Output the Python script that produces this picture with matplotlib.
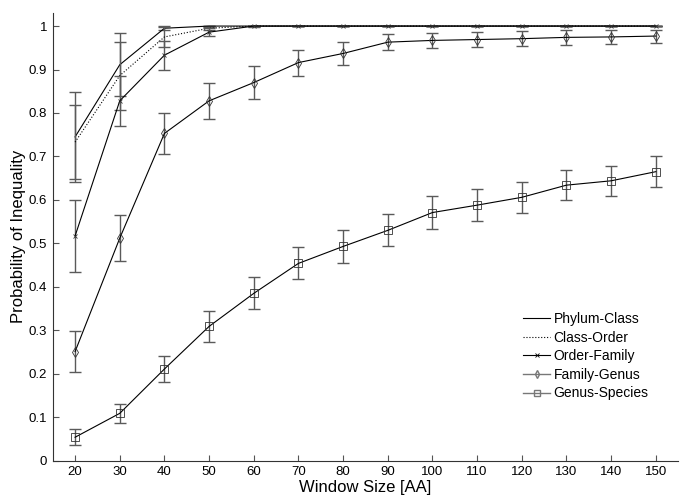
import matplotlib
matplotlib.use("Agg")
import matplotlib.pyplot as plt
from matplotlib.lines import Line2D

plt.rcParams['font.family'] = ['Liberation Sans', 'DejaVu Sans']

window = [20, 30, 40, 50, 60, 70, 80, 90, 100, 110, 120, 130, 140, 150]

phylum_class = [0.745, 0.911, 0.995, 1.0, 1.0, 1.0, 1.0, 1.0, 1.0, 1.0, 1.0, 1.0, 1.0, 1.0]
phylum_class_err = [0.103, 0.072, 0.005, 0, 0, 0, 0, 0, 0, 0, 0, 0, 0, 0]

class_order = [0.733, 0.886, 0.975, 0.995, 1.0, 1.0, 1.0, 1.0, 1.0, 1.0, 1.0, 1.0, 1.0, 1.0]
class_order_err = [0.085, 0.078, 0.024, 0.004, 0, 0, 0, 0, 0, 0, 0, 0, 0, 0]

order_family = [0.517, 0.828, 0.933, 0.986, 1.0, 1.0, 1.0, 1.0, 1.0, 1.0, 1.0, 1.0, 1.0, 1.0]
order_family_err = [0.083, 0.057, 0.033, 0.01, 0.001, 0, 0, 0, 0, 0, 0, 0, 0, 0]

family_genus = [0.251, 0.512, 0.753, 0.828, 0.870, 0.916, 0.937, 0.963, 0.967, 0.969, 0.971, 0.974, 0.975, 0.977]
family_genus_err = [0.048, 0.053, 0.047, 0.042, 0.038, 0.030, 0.026, 0.019, 0.018, 0.018, 0.017, 0.017, 0.016, 0.015]

genus_species = [0.054, 0.109, 0.211, 0.309, 0.385, 0.454, 0.493, 0.530, 0.571, 0.588, 0.606, 0.634, 0.644, 0.665]
genus_species_err = [0.018, 0.022, 0.030, 0.035, 0.037, 0.037, 0.037, 0.037, 0.037, 0.037, 0.036, 0.035, 0.035, 0.035]

labels = ["Phylum-Class", "Class-Order", "Order-Family", "Family-Genus", "Genus-Species"]

fig = plt.figure(figsize=(6.85, 5.01), dpi=100)
ax = fig.add_axes([0.077, 0.0804, 0.913, 0.8936])

err_color = "#5a5a5a"
series = [
    (phylum_class, phylum_class_err, "-", None, 0),
    (class_order, class_order_err, ":", None, 0),
    (order_family, order_family_err, "-", "x", 3.5),
    (family_genus, family_genus_err, "-", "d", 5),
    (genus_species, genus_species_err, "-", "s", 6),
]
for vals, errs, ls, mk, ms in series:
    ax.errorbar(window, vals, yerr=errs, fmt="none", ecolor=err_color,
                elinewidth=1.0, capsize=4.3, capthick=1.0)
    ax.plot(window, vals, linestyle=ls, color="black", linewidth=0.8,
            marker=mk, markersize=ms, markerfacecolor="none",
            markeredgecolor="#333333", markeredgewidth=0.6)

# legend entries (the reference shows the last two in gray)
handles = [
    Line2D([], [], color="black", linestyle="-", linewidth=0.8),
    Line2D([], [], color="black", linestyle=":", linewidth=0.8),
    Line2D([], [], color="black", linestyle="-", linewidth=0.8, marker="x", markersize=3,
           markeredgewidth=0.6),
    Line2D([], [], color="#777777", linestyle="-", linewidth=1.0, marker="d", markersize=4,
           markerfacecolor="none"),
    Line2D([], [], color="#777777", linestyle="-", linewidth=1.0, marker="s", markersize=4.5,
           markerfacecolor="none"),
]
ax.legend(handles, labels, frameon=False, fontsize=10, loc="upper left",
          bbox_to_anchor=(0.7635, 0.377), bbox_transform=fig.transFigure,
          borderaxespad=0, borderpad=0, handlelength=1.95, handletextpad=0.25,
          labelspacing=0.33)

ax.set_xlim(15, 155)
ax.set_ylim(0, 1.03)
ax.set_xticks(window)
ax.set_yticks([0, 0.1, 0.2, 0.3, 0.4, 0.5, 0.6, 0.7, 0.8, 0.9, 1.0])
ax.set_yticklabels(["0", "0.1", "0.2", "0.3", "0.4", "0.5", "0.6", "0.7", "0.8", "0.9", "1"])
ax.tick_params(direction="in", length=4, width=0.8, color="#555555", labelsize=9.5, pad=4)
ax.spines["top"].set_visible(False)
ax.spines["right"].set_visible(False)
ax.spines["left"].set_color("#333333")
ax.spines["bottom"].set_color("#333333")

ax.set_xlabel("Window Size [AA]", fontsize=12, labelpad=1)
ax.set_ylabel("Probability of Inequality", fontsize=12, labelpad=2)

fig.savefig("out.png", dpi=100)
